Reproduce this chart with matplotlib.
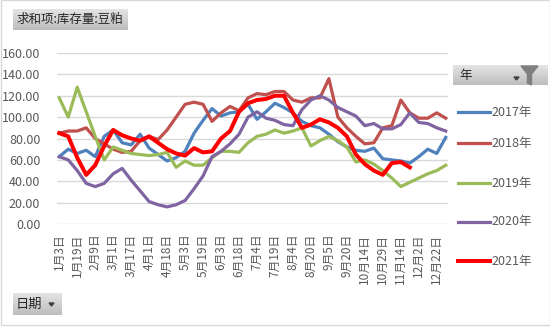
import numpy as np
import matplotlib
matplotlib.use("Agg")
import matplotlib.pyplot as plt
from matplotlib.patches import Rectangle, Polygon

plt.rcParams['font.family'] = ['Noto Sans CJK SC', 'DejaVu Sans']

# 日期 (每隔一个显示)
dates = ["1月3日", "1月11日", "1月19日", "1月29日", "2月9日", "2月19日",
         "3月1日", "3月9日", "3月17日", "3月24日", "4月1日", "4月9日",
         "4月18日", "4月25日", "5月3日", "5月11日", "5月19日", "5月26日",
         "6月3日", "6月10日", "6月18日", "6月26日", "7月4日", "7月11日",
         "7月19日", "7月27日", "8月4日", "8月12日", "8月20日", "8月28日",
         "9月5日", "9月12日", "9月20日", "10月1日", "10月14日", "10月21日",
         "10月29日", "11月6日", "11月14日", "11月22日", "12月2日", "12月12日",
         "12月22日", "12月30日"]

y2017 = [63, 70, 66, 69, 63, 82, 88, 76, 74, 84, 71, 65, 59, 62, 68, 85, 97, 108,
         101, 104, 105, 112, 98, 105, 113, 109, 104, 96, 92, 90, 84, 77, 72, 69,
         68, 71, 61, 60, 59, 57, 63, 70, 66, 81]
y2018 = [85, 87, 87, 90, 80, 75, 70, 67, 68, 78, 82, 79, 88, 100, 112, 114, 112, 96,
         104, 110, 106, 118, 122, 121, 124, 124, 116, 114, 118, 118, 136, 100, 90, 82,
         75, 76, 90, 92, 116, 104, 99, 99, 104, 99]
y2019 = [118, 100, 128, 105, 82, 60, 72, 69, 66, 65, 64, 65, 67, 53, 59, 55, 55, 62,
         68, 68, 67, 76, 82, 84, 88, 85, 87, 90, 73, 78, 82, 78, 72, 58,
         60, 56, 50, 43, 35, 39, 43, 47, 50, 55]
y2020 = [63, 60, 50, 38, 35, 38, 47, 52, 41, 31, 21, 18, 16, 18, 22, 33, 45, 63,
         68, 75, 84, 100, 105, 99, 97, 93, 92, 107, 116, 120, 116, 109, 105, 101,
         92, 94, 89, 89, 93, 104, 95, 94, 90, 87]
y2021 = [85, 82, 62, 46, 55, 73, 88, 83, 80, 78, 82, 76, 70, 66, 64, 71, 67, 68,
         80, 87, 105, 113, 116, 117, 120, 120, 104, 90, 93, 98, 95, 90, 82, 65,
         56, 50, 46, 57, 58, 53]

years = ["2017年", "2018年", "2019年", "2020年", "2021年"]
series = [y2017, y2018, y2019, y2020, y2021]
colors = ["#4F81BD", "#C0504D", "#9BBB59", "#8064A2", "#FF0000"]
widths = [2.3, 2.3, 2.3, 2.3, 2.9]

W, H = 550, 329


def fx(x):
    return x / W


def fy(y):
    return 1 - y / H


def button(x0, y0, x1, y1):
    b = fig.add_axes([fx(x0), fy(y1), (x1 - x0) / W, (y1 - y0) / H])
    grad = np.linspace(0, 1, 50).reshape(-1, 1)
    b.imshow(grad, aspect='auto', cmap=matplotlib.colors.LinearSegmentedColormap.from_list(
        "g", ["#e4e4e4", "#bdbdbd"]), extent=[0, 1, 0, 1], origin='upper')
    b.set_axis_off()
    return b


fig = plt.figure(figsize=(5.5, 3.29), dpi=100)

# 外框
fig.patches.append(Rectangle((fx(0.5), fy(325)), fx(549), 325 / H, transform=fig.transFigure,
                             fill=False, edgecolor="#d9d9d9", lw=1))

ax = fig.add_axes([fx(57), fy(224), (448 - 57) / W, (224 - 53) / H])
x = np.arange(len(dates))
for vals, c, lw, lab in zip(series, colors, widths, years):
    ax.plot(x[:len(vals)], vals, color=c, lw=lw, label=lab, solid_joinstyle='round')

ax.set_ylim(0, 160)
ax.set_xlim(-0.25, len(dates) - 0.75)
ax.set_yticks(np.arange(0, 161, 20))
ax.set_yticklabels([f"{v:.2f}" for v in np.arange(0, 161, 20)])
ax.set_xticks(x[::2])
ax.set_xticklabels(dates[::2], rotation=90)
ax.grid(axis='y', color="#d9d9d9", lw=1)
ax.set_axisbelow(True)
for s in ax.spines.values():
    s.set_visible(False)
ax.tick_params(axis='y', length=0, pad=12, labelsize=9, labelcolor="#595959")
ax.tick_params(axis='x', length=0, pad=7, labelsize=8.5, labelcolor="#595959")

# 图例
leg_y = [112, 143, 183, 222, 261]
for c, lw, lab, yy in zip(colors, widths, years, leg_y):
    fig.lines.append(plt.Line2D([fx(458), fx(490)], [fy(yy), fy(yy)], color=c, lw=lw,
                                transform=fig.transFigure))
    fig.text(fx(491), fy(yy), lab, fontsize=9, color="#595959", va='center', ha='left')

# 按钮
button(13, 9, 128, 30)
fig.text(fx(16), fy(19.5), "求和项:库存量:豆粕", fontsize=9, color="#262626",
         va='center', ha='left')

button(453, 65, 548, 85)
fig.text(fx(459), fy(75), "年", fontsize=9, color="#262626", va='center', ha='left')
fig.patches.append(Polygon([(fx(514), fy(77)), (fx(519), fy(77)), (fx(516.5), fy(80))],
                           closed=True, color="#404040", transform=fig.transFigure))
fig.patches.append(Polygon([(fx(521), fy(66)), (fx(538), fy(66)), (fx(531.5), fy(74)),
                            (fx(531.5), fy(85)), (fx(527.5), fy(83)), (fx(527.5), fy(74))],
                           closed=True, color="#7f7f7f", transform=fig.transFigure))

button(13, 293, 62, 315)
fig.text(fx(16), fy(304), "日期", fontsize=9.5, color="#262626", va='center', ha='left')
fig.patches.append(Polygon([(fx(49), fy(303)), (fx(54), fy(303)), (fx(51.5), fy(306))],
                           closed=True, color="#404040", transform=fig.transFigure))

fig.savefig("out.png", dpi=100)
